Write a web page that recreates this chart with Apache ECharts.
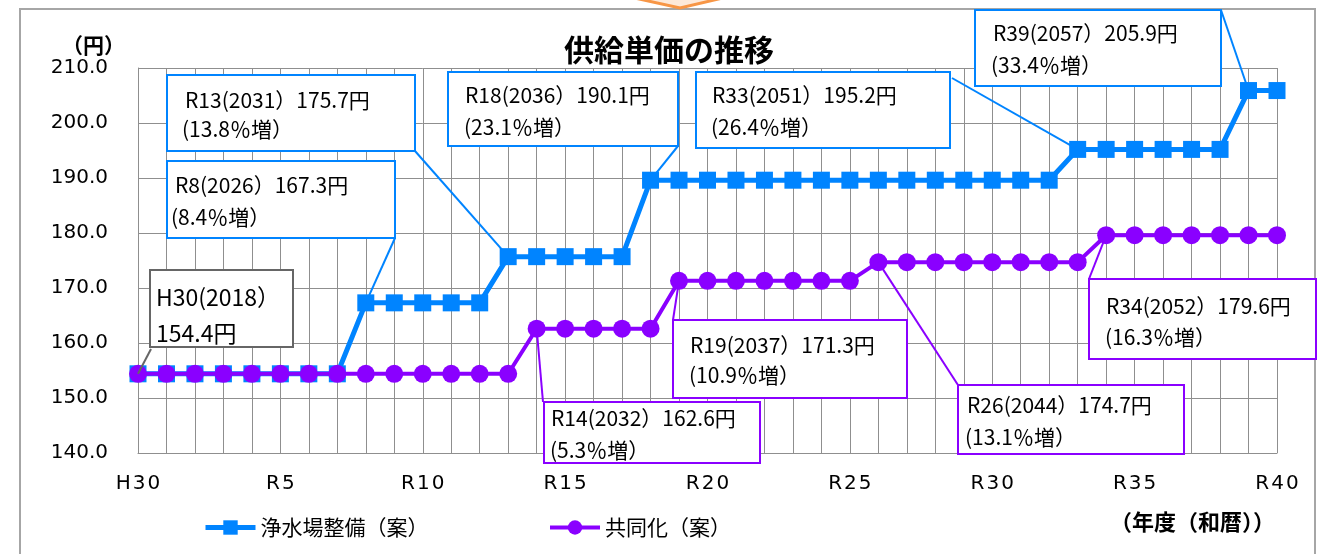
<!DOCTYPE html>
<html><head><meta charset="utf-8">
<script src="https://cdn.jsdelivr.net/npm/echarts@6/dist/echarts.min.js"></script>
<style>html,body{margin:0;padding:0;background:#fff}#c{width:1338px;height:554px}</style>
</head><body><div id="c"></div>
<script>
const categories = ['H30','R1','R2','R3','R4','R5','R6','R7','R8','R9','R10','R11','R12','R13','R14','R15','R16','R17','R18','R19','R20','R21','R22','R23','R24','R25','R26','R27','R28','R29','R30','R31','R32','R33','R34','R35','R36','R37','R38','R39','R40'];
const seriesNames = ['浄水場整備（案）','共同化（案）'];
const plantValues = [154.4,154.4,154.4,154.4,154.4,154.4,154.4,154.4,167.3,167.3,167.3,167.3,167.3,175.7,175.7,175.7,175.7,175.7,189.6,189.6,189.6,189.6,189.6,189.6,189.6,189.6,189.6,189.6,189.6,189.6,189.6,189.6,189.6,195.2,195.2,195.2,195.2,195.2,195.2,205.9,205.9];
const jointValues = [154.4,154.4,154.4,154.4,154.4,154.4,154.4,154.4,154.4,154.4,154.4,154.4,154.4,154.4,162.6,162.6,162.6,162.6,162.6,171.3,171.3,171.3,171.3,171.3,171.3,171.3,174.7,174.7,174.7,174.7,174.7,174.7,174.7,174.7,179.6,179.6,179.6,179.6,179.6,179.6,179.6];
const yTicks = [140,150,160,170,180,190,200,210];
const calloutSeries = [0,0,0,0,0,0,1,1,1,1];
const calloutIndex = [0,8,13,18,33,39,14,19,26,34];
const calloutLine1 = ['H30(2018）','R8(2026）167.3円','R13(2031）175.7円','R18(2036）190.1円','R33(2051）195.2円','R39(2057）205.9円','R14(2032）162.6円','R19(2037）171.3円','R26(2044）174.7円','R34(2052）179.6円'];
const calloutLine2 = ['154.4円','(8.4％増）','(13.8％増）','(23.1％増）','(26.4％増）','(33.4％増）','(5.3％増）','(10.9％増）','(13.1％増）','(16.3％増）'];

const BLUE = '#0084ff', PURPLE = '#8a00ff', GRID = '#8f8f8f';
const FONT = '"Noto Sans CJK JP", "Noto Sans", sans-serif';
const NUMFONT = '"DejaVu Sans", "Noto Sans CJK JP", sans-serif';
const HS = '\u200A';

// layout of the callouts (box x,y,w,h ; leader start ; text positions ; font size)
const boxLayout = [
  {b:[150,270,143,77], a:[151,349], t1:[156,297], t2:[156,333], c:'#666666', f:23},
  {b:[167,161,228,77], a:[395,238], t1:[175,185], t2:[171,217]},
  {b:[167,75,248,76],  a:[415,151], t1:[185,100], t2:[182,129]},
  {b:[448,72,230,74],  a:[678,146], t1:[465,95],  t2:[464,127]},
  {b:[696,72,254,76],  a:[952,78],  t1:[712,95],  t2:[711,127]},
  {b:[975,10,246,76],  a:[1221,10], t1:[993,33],  t2:[991,65]},
  {b:[544,402,216,61], a:[543,402], t1:[551,418], t2:[550,450]},
  {b:[673,320,234,78], a:[673,320], t1:[690,345], t2:[689,375]},
  {b:[958,385,226,69], a:[958,385], t1:[967,405], t2:[965,437]},
  {b:[1089,279,227,80],a:[1089,279],t1:[1106,306],t2:[1105,337]}
];

const chart = echarts.init(document.getElementById('c'), null, {renderer:'canvas'});
const option = {
  animation: false,
  backgroundColor: '#fff',
  title: {text:'供給単価の推移', left:'center', top:30,
    textStyle:{fontFamily:FONT, fontSize:30, fontWeight:'bold', color:'#000'}},
  legend: [
    {data:[seriesNames[0]], left:198, top:512, itemWidth:50, itemHeight:18, itemGap:5,
     lineStyle:{width:5}, textStyle:{fontFamily:FONT, fontSize:21, color:'#000'}},
    {data:[seriesNames[1]], left:543, top:512, itemWidth:50, itemHeight:18, itemGap:5,
     lineStyle:{width:4}, textStyle:{fontFamily:FONT, fontSize:21, color:'#000'}}
  ],
  grid: {left:138, right:61, top:68, bottom:101, containLabel:false},
  xAxis: {
    type:'category', data:categories, boundaryGap:false,
    axisLine:{show:true, lineStyle:{color:GRID, width:1}},
    axisTick:{show:false},
    axisLabel:{interval:4, margin:21, fontFamily:NUMFONT, fontSize:20, color:'#000',
      formatter:v=>v.split('').join(HS)},
    splitLine:{show:true, interval:0, lineStyle:{color:GRID, width:1}}
  },
  yAxis: {
    type:'value', min:yTicks[0], max:yTicks[yTicks.length-1], interval:10,
    axisLine:{show:true, lineStyle:{color:GRID, width:1}},
    axisTick:{show:false},
    axisLabel:{margin:30, fontFamily:NUMFONT, fontSize:20, color:'#000', formatter:v=>v.toFixed(1)},
    splitLine:{show:true, lineStyle:{color:GRID, width:1}}
  },
  series: [
    {name:seriesNames[0], type:'line', data:plantValues, symbol:'rect', symbolSize:17,
     itemStyle:{color:BLUE}, lineStyle:{color:BLUE, width:5}, z:3},
    {name:seriesNames[1], type:'line', data:jointValues, symbol:'circle', symbolSize:18,
     itemStyle:{color:PURPLE}, lineStyle:{color:PURPLE, width:4}, z:4}
  ]
};
chart.setOption(option);

const g = [];
g.push({type:'rect', shape:{x:20, y:9, width:1295, height:600}, style:{fill:'none', stroke:'#a6a6a6', lineWidth:2}, z:1, silent:true});
g.push({type:'polygon', shape:{points:[[630,-3],[727,-3],[680,8]]}, style:{fill:'#fde9d9', stroke:'#f79646', lineWidth:3}, z:2, silent:true});
g.push({type:'text', x:62, y:45, style:{text:'（円）', font:'bold 21px '+FONT, fill:'#000', textVerticalAlign:'middle', textAlign:'left'}, z:5});
g.push({type:'text', x:1110, y:522, style:{text:'（年度（和暦））', font:'bold 22px '+FONT, fill:'#000', textVerticalAlign:'middle', textAlign:'left'}, z:5});

for (let k = 0; k < calloutIndex.length; k++) {
  const s = calloutSeries[k], i = calloutIndex[k];
  const vals = s === 0 ? plantValues : jointValues;
  const p = chart.convertToPixel({seriesIndex:s}, [i, vals[i]]);
  const L = boxLayout[k];
  const col = L.c || (s === 0 ? BLUE : PURPLE);
  const fs = L.f || 21;
  g.push({type:'line', shape:{x1:L.a[0], y1:L.a[1], x2:p[0], y2:p[1]}, style:{stroke:col, lineWidth:2}, z:6, silent:true});
  g.push({type:'rect', shape:{x:L.b[0], y:L.b[1], width:L.b[2], height:L.b[3]}, style:{fill:'#fff', stroke:col, lineWidth:2}, z:7, silent:true});
  g.push({type:'text', x:L.t1[0], y:L.t1[1], style:{text:calloutLine1[k], font:fs+'px '+FONT, fill:'#000', textVerticalAlign:'middle'}, z:8, silent:true});
  g.push({type:'text', x:L.t2[0], y:L.t2[1], style:{text:calloutLine2[k], font:fs+'px '+FONT, fill:'#000', textVerticalAlign:'middle'}, z:8, silent:true});
}
chart.setOption({graphic: g});
</script>
</body></html>
